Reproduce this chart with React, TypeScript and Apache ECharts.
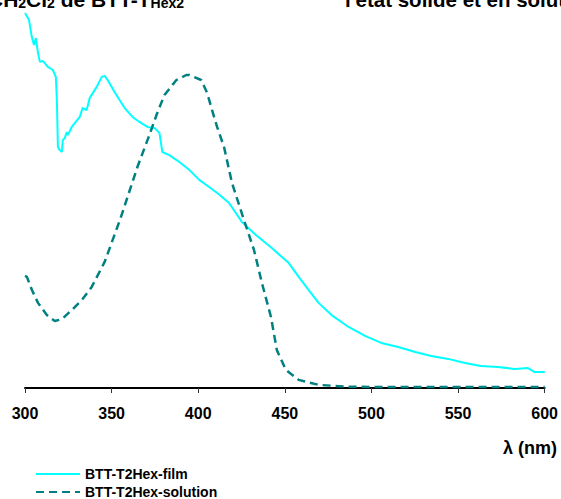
import React, { useEffect, useRef } from "react";
import * as echarts from "echarts";

// Wavelength (nm) and normalised absorbance
const filmWavelengths = [300, 301.1, 302.3, 303.9, 305.2, 306.3, 307.5, 308.6, 310.3, 313.2, 316.1, 317.8, 318.4, 319.0, 320.1, 321.3, 321.8, 323.0, 324.1, 324.7, 327.0, 331.6, 333.3, 335.6, 337.4, 341.4, 344.3, 346.0, 347.7, 351.7, 354.6, 357.5, 358.6, 362.1, 366.1, 370.7, 374.7, 377.6, 379.3, 383.3, 389.1, 394.8, 400.6, 406.3, 412.1, 417.8, 425.3, 433.3, 442.5, 452.3, 458.0, 463.8, 469.5, 477.0, 486.8, 496.6, 505.7, 515.5, 525.3, 534.5, 544.3, 554.0, 563.2, 573.0, 582.8, 590.2, 594.3, 600];
const filmValues = [1.198, 1.188, 1.176, 1.122, 1.096, 1.118, 1.070, 1.042, 1.045, 1.026, 1.016, 0.994, 0.920, 0.770, 0.760, 0.754, 0.792, 0.799, 0.818, 0.808, 0.834, 0.866, 0.895, 0.888, 0.927, 0.962, 0.994, 0.997, 0.984, 0.946, 0.920, 0.895, 0.888, 0.866, 0.850, 0.834, 0.831, 0.815, 0.754, 0.744, 0.722, 0.697, 0.665, 0.642, 0.618, 0.591, 0.530, 0.489, 0.447, 0.399, 0.355, 0.313, 0.272, 0.233, 0.195, 0.166, 0.144, 0.131, 0.115, 0.102, 0.093, 0.080, 0.070, 0.067, 0.061, 0.064, 0.051, 0.051];

const solutionWavelengths = [300, 301.1, 304.0, 307.5, 312.6, 317.2, 321.3, 327.0, 332.8, 338.5, 346.0, 355.2, 364.9, 370.1, 371.8, 375.9, 380.5, 387.4, 393.1, 394.8, 401.7, 405.2, 408.0, 410.9, 414.9, 419.5, 426.4, 432.2, 436.8, 442.0, 445.4, 450.6, 458.0, 469.5, 486.8, 515.5, 600];
const solutionValues = [0.358, 0.355, 0.313, 0.272, 0.233, 0.214, 0.220, 0.249, 0.281, 0.323, 0.403, 0.543, 0.706, 0.783, 0.808, 0.872, 0.936, 0.984, 1.000, 1.000, 0.984, 0.942, 0.888, 0.834, 0.770, 0.655, 0.537, 0.441, 0.335, 0.227, 0.121, 0.058, 0.026, 0.010, 0.004, 0.003, 0.003];

const xTicks = [300, 350, 400, 450, 500, 550, 600];
const seriesNames = ["BTT-T2Hex-film", "BTT-T2Hex-solution"];

const FONT = "'Liberation Sans', Arial, sans-serif";

export default function App() {
  const ref = useRef<HTMLDivElement>(null);

  useEffect(() => {
    document.body.style.margin = "0";
    if (!ref.current) return;
    const chart = echarts.init(ref.current, undefined, { renderer: "svg" });
    const film = filmWavelengths.map((w, i) => [w, filmValues[i]]);
    const sol = solutionWavelengths.map((w, i) => [w, solutionValues[i]]);

    chart.setOption({
      animation: false,
      backgroundColor: "#ffffff",
      grid: { left: 25, right: 14, top: 12.4, bottom: 111, containLabel: false },
      xAxis: {
        type: "value",
        min: xTicks[0],
        max: xTicks[xTicks.length - 1],
        interval: 50,
        axisLine: { show: true, lineStyle: { color: "#000", width: 2 } },
        axisTick: { show: true, inside: false, length: 5, lineStyle: { color: "#333", width: 1 } },
        axisLabel: {
          color: "#000",
          fontFamily: FONT,
          fontWeight: "bold",
          fontSize: 16,
          margin: 17,
        },
        splitLine: { show: false },
      },
      yAxis: { type: "value", min: 0, max: 1.2, show: false },
      legend: {
        orient: "vertical",
        left: 35,
        top: 467,
        padding: 0,
        itemWidth: 44,
        itemHeight: 14,
        itemGap: 4,
        data: seriesNames,
        itemStyle: { opacity: 0 },
        textStyle: { color: "#000", fontFamily: FONT, fontWeight: "bold", fontSize: 14 },
      },
      series: [
        {
          name: seriesNames[0],
          type: "line",
          data: film,
          showSymbol: false,
          symbol: "none",
          lineStyle: { color: "#00FFFF", width: 2 },
          itemStyle: { color: "#00FFFF" },
          z: 2,
        },
        {
          name: seriesNames[1],
          type: "line",
          data: sol,
          showSymbol: false,
          symbol: "none",
          lineStyle: { color: "#008080", width: 2.5, type: [8, 5] },
          itemStyle: { color: "#008080" },
          z: 3,
        },
      ],
      graphic: [
        {
          type: "text",
          left: -12,
          top: -11,
          style: {
            text: "{m|CH}{s|2}{m|Cl}{s|2}{m| de BTT-T}{s|Hex}{s|2}",
            rich: {
              m: { fontFamily: FONT, fontWeight: "bold", fontSize: 21, fill: "#000", verticalAlign: "bottom" },
              s: { fontFamily: FONT, fontWeight: "bold", fontSize: 14, fill: "#000", verticalAlign: "bottom" },
            },
          },
        },
        {
          type: "text",
          left: 345,
          top: -11,
          style: {
            text: "l'état solide et en solution",
            fontFamily: FONT,
            fontWeight: "bold",
            fontSize: 20.5,
            fill: "#000",
          },
        },
        {
          type: "text",
          right: 4,
          top: 439,
          style: {
            text: "λ (nm)",
            fontFamily: FONT,
            fontWeight: "bold",
            fontSize: 18,
            fill: "#000",
          },
        },
      ],
    });

    return () => chart.dispose();
  }, []);

  return <div ref={ref} style={{ width: 561, height: 499 }} />;
}
